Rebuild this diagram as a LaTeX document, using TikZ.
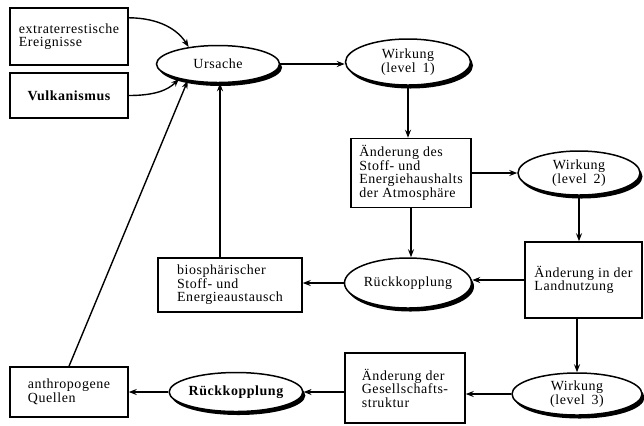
\documentclass[tikz,border=0pt]{standalone}
\usepackage{fontspec}
\setmainfont[LetterSpace=4]{Liberation Serif}
\usetikzlibrary{shapes.geometric,arrows.meta,calc}
\begin{document}
\begin{tikzpicture}[x=1bp,y=-1bp,
  every node/.style={font=\fontsize{14}{13.5}\selectfont},
  kasten/.style={draw,line width=1.5pt,fill=white,rectangle,align=left,inner sep=0pt},
  oval/.style={draw,line width=1.5pt,fill=white,ellipse,align=center,inner sep=0pt,
    preaction={fill=black,transform canvas={xshift=2.5bp,yshift=-3.5bp}}},
  pfeil/.style={line width=1.4pt,-{Stealth[length=8pt,width=6pt]}}]
\useasboundingbox (0,0) rectangle (644,425);

% sources on the left
\node[kasten,minimum width=118bp,minimum height=57bp] (ext) at (69,36.5) {extraterrestische\\Ereignisse};
\node[kasten,minimum width=118bp,minimum height=45bp,font=\fontsize{14}{13.5}\selectfont\bfseries] (vulk) at (69,95.5) {Vulkanismus};

% main chain
\node[oval,minimum width=123bp,minimum height=37bp] (urs) at (218,64) {Ursache};
\node[oval,minimum width=125bp,minimum height=46bp] (w1) at (408,62) {Wirkung\\(level\enspace 1)};
\node[kasten,minimum width=120bp,minimum height=69bp] (atm) at (411,173) {Änderung des\\Stoff- und\\Energiehaushalts\\der Atmosphäre};
\node[oval,minimum width=122bp,minimum height=44bp] (w2) at (579,173) {Wirkung\\(level\enspace 2)};
\node[kasten,minimum width=117bp,minimum height=76bp] (land) at (583.5,280) {Änderung in der\\Landnutzung};
\node[oval,minimum width=127bp,minimum height=50bp] (rk1) at (408,283) {Rückkopplung};
\node[kasten,minimum width=144bp,minimum height=54bp] (bio) at (230,285) {biosphärischer\\Stoff- und\\Energieaustausch};
\node[oval,minimum width=130bp,minimum height=42bp] (w3) at (577,394) {Wirkung\\(level\enspace 3)};
\node[kasten,minimum width=120bp,minimum height=70bp] (ges) at (405,388) {Änderung der\\Gesellschafts-\\struktur};
\node[oval,minimum width=128bp,minimum height=39bp,font=\fontsize{14}{13.5}\selectfont\bfseries] (rk2) at (236,392) {Rückkopplung};
\node[kasten,minimum width=118bp,minimum height=50bp] (anth) at (69,392) {anthropogene\\Quellen};

% connectors
\coordinate (e1) at ($(ext.north east)!0.18!(ext.south east)$);
\draw[pfeil] (e1) .. controls (160,18) and (178,30) .. (urs.150);
\draw[pfeil] (vulk.east) .. controls (155,95.5) and (168,90) .. (urs.201);
\draw[pfeil] (urs.east) -- (urs.east -| w1.west);
\draw[pfeil] (w1.south) -- (w1.south |- atm.north);
\draw[pfeil] (atm.east) -- (atm.east -| w2.west);
\draw[pfeil] (w2.south) -- (w2.south |- land.north);
\draw[pfeil] (atm.south) -- (atm.south |- rk1.north);
\draw[pfeil] (land.west) -- (land.west -| rk1.east);
\draw[pfeil] (rk1.west) -- (rk1.west -| bio.east);
\coordinate (bt) at ($(bio.north)+(-10,0)$);
\draw[pfeil] (bt) -- (bt |- urs.south);
\draw[pfeil] (land.south -| w3.north) -- (w3.north);
\draw[pfeil] (w3.west) -- (w3.west -| ges.east);
\draw[pfeil] (rk2.east -| ges.west) -- (rk2.east);
\draw[pfeil] (rk2.west) -- (rk2.west -| anth.east);
\draw[pfeil] (anth.north) -- (urs.209);
\end{tikzpicture}
\end{document}
